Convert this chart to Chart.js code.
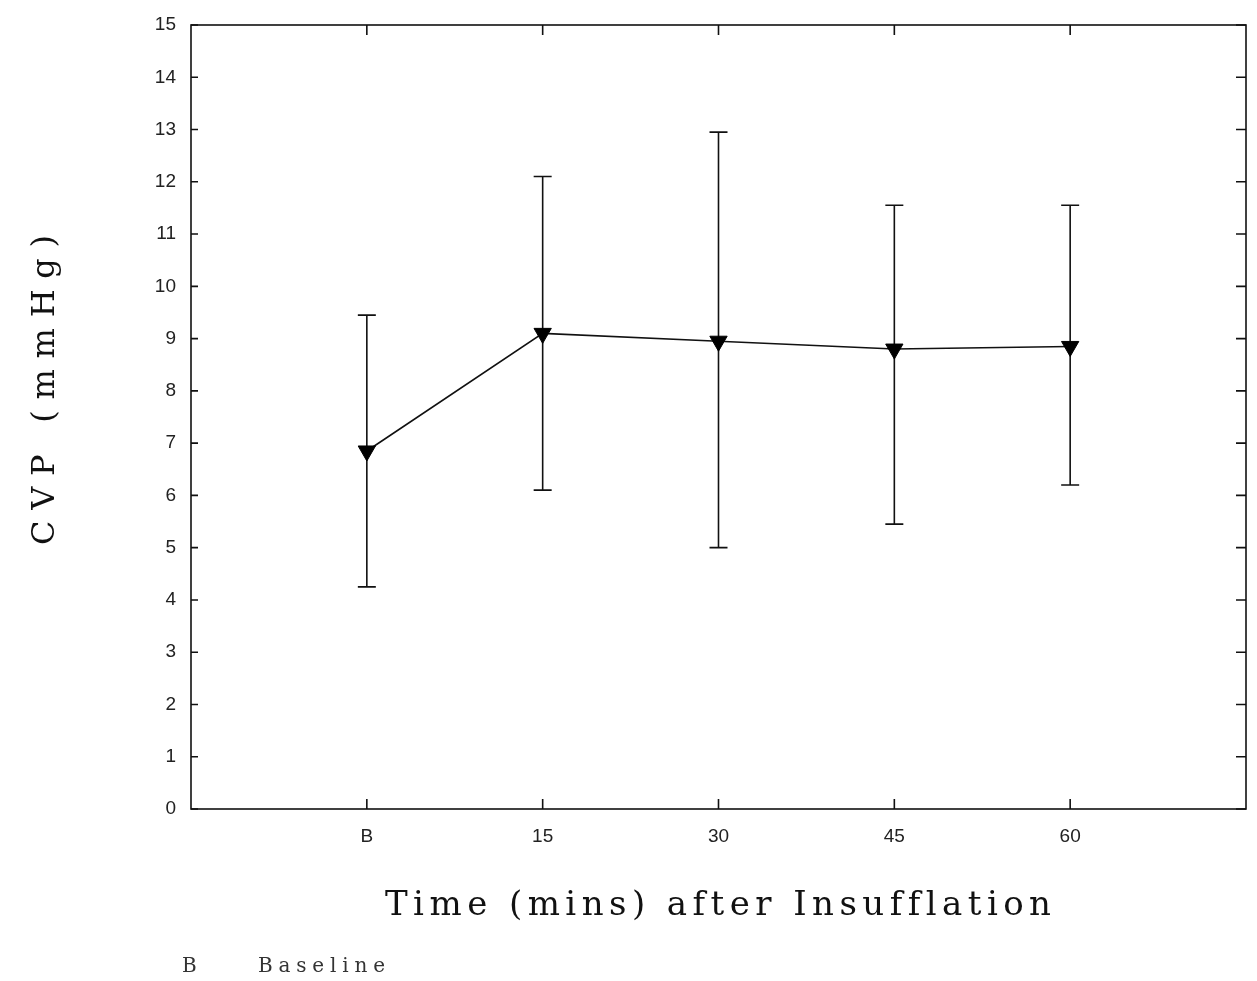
<!DOCTYPE html>
<html>
<head>
<meta charset="utf-8">
<title>CVP after insufflation</title>
<script src="https://cdn.jsdelivr.net/npm/chart.js@4.4.1/dist/chart.umd.min.js"></script>
<style>
  html, body { margin: 0; padding: 0; background: #fff; }
  #wrap { width: 1257px; height: 981px; position: relative; }
</style>
</head>
<body>
<div id="wrap"><canvas id="cvp-chart" width="1257" height="981"></canvas></div>
<script>
// data
const timeLabels = ['B', '15', '30', '45', '60'];
const cvpMean = [6.85, 9.1, 8.95, 8.8, 8.85];
const cvpUpper = [9.45, 12.1, 12.95, 11.55, 11.55];
const cvpLower = [4.25, 6.1, 5.0, 5.45, 6.2];
const yTicks = [0, 1, 2, 3, 4, 5, 6, 7, 8, 9, 10, 11, 12, 13, 14, 15];

const xTitle = 'Time (mins) after Insufflation';
const yTitle = 'CVP (mmHg)';

// positions 1..n on a 0..n+1 axis leave an empty slot at each end
const points = cvpMean.map((v, i) => ({ x: i + 1, y: v }));

// error bars, drawn behind the markers
const errorBars = {
  id: 'errorBars',
  beforeDatasetsDraw(chart) {
    const ctx = chart.ctx;
    const xs = chart.scales.x, ys = chart.scales.y;
    ctx.save();
    ctx.strokeStyle = '#111';
    ctx.lineWidth = 1.6;
    for (let i = 0; i < cvpMean.length; i++) {
      const x = xs.getPixelForValue(i + 1);
      const top = ys.getPixelForValue(cvpUpper[i]);
      const bot = ys.getPixelForValue(cvpLower[i]);
      ctx.beginPath();
      ctx.moveTo(x, top); ctx.lineTo(x, bot);
      ctx.moveTo(x - 9, top); ctx.lineTo(x + 9, top);
      ctx.moveTo(x - 9, bot); ctx.lineTo(x + 9, bot);
      ctx.stroke();
    }
    ctx.restore();
  }
};

// frame with inward ticks on all four sides
const frame = {
  id: 'frame',
  afterDraw(chart) {
    const ctx = chart.ctx;
    const a = chart.chartArea;
    const xs = chart.scales.x, ys = chart.scales.y;
    ctx.save();
    ctx.strokeStyle = '#111';
    ctx.lineWidth = 1.6;
    ctx.strokeRect(a.left, a.top, a.right - a.left, a.bottom - a.top);
    ctx.beginPath();
    yTicks.forEach(v => {
      const y = ys.getPixelForValue(v);
      ctx.moveTo(a.left, y); ctx.lineTo(a.left + 7, y);
      ctx.moveTo(a.right, y); ctx.lineTo(a.right - 10, y);
    });
    timeLabels.forEach((t, i) => {
      const x = xs.getPixelForValue(i + 1);
      ctx.moveTo(x, a.bottom); ctx.lineTo(x, a.bottom - 10);
      ctx.moveTo(x, a.top); ctx.lineTo(x, a.top + 10);
    });
    ctx.stroke();
    ctx.restore();
  }
};

// axis titles and the footnote, spaced out like the typed original
function spacedText(ctx, text, x, y, width) {
  ctx.letterSpacing = '0px';
  const w = ctx.measureText(text).width;
  const sp = Math.max(0, (width - w) / (text.length - 1));
  ctx.letterSpacing = sp + 'px';
  ctx.fillText(text, x, y);
}

const titles = {
  id: 'titles',
  afterDraw(chart) {
    const ctx = chart.ctx;
    ctx.save();
    ctx.fillStyle = '#111';
    ctx.textBaseline = 'alphabetic';
    ctx.textAlign = 'left';
    ctx.font = '34px "DejaVu Serif"';
    spacedText(ctx, xTitle, 385, 915, 665);

    ctx.save();
    ctx.translate(54, 545);
    ctx.rotate(-Math.PI / 2);
    ctx.font = '32px "DejaVu Serif"';
    spacedText(ctx, yTitle, 0, 0, 310);
    ctx.restore();

    ctx.fillStyle = '#333';
    ctx.font = '20px "DejaVu Serif"';
    ctx.letterSpacing = '0px';
    ctx.fillText('B', 182, 972);
    spacedText(ctx, 'Baseline', 258, 972, 127);
    ctx.restore();
  }
};

new Chart(document.getElementById('cvp-chart').getContext('2d'), {
  type: 'line',
  data: {
    datasets: [{
      label: 'CVP',
      data: points,
      borderColor: '#111',
      borderWidth: 1.6,
      backgroundColor: '#111',
      pointStyle: 'triangle',
      rotation: 180,
      pointRadius: 10,
      pointBackgroundColor: '#000',
      pointBorderColor: '#000',
      pointBorderWidth: 1,
      tension: 0,
      fill: false
    }]
  },
  options: {
    responsive: false,
    animation: false,
    events: [],
    layout: { padding: { left: 0, top: 25, right: 0, bottom: 0 } },
    plugins: {
      legend: { display: false },
      tooltip: { enabled: false }
    },
    scales: {
      x: {
        type: 'linear',
        min: 0,
        max: timeLabels.length + 1,
        grid: { display: false, drawTicks: false },
        border: { display: false },
        afterBuildTicks(scale) {
          scale.ticks = timeLabels.map((t, i) => ({ value: i + 1 }));
        },
        afterFit(scale) {
          scale.height = 981 - 809;
          scale.paddingLeft = 0;
          scale.paddingRight = 0;
        },
        ticks: {
          padding: 16,
          color: '#222',
          font: { family: '"Liberation Sans"', size: 19 },
          maxRotation: 0,
          autoSkip: false,
          callback: v => timeLabels[v - 1] || ''
        }
      },
      y: {
        min: 0,
        max: 15,
        grid: { display: false, drawTicks: false },
        border: { display: false },
        afterBuildTicks(scale) {
          scale.ticks = yTicks.map(v => ({ value: v }));
        },
        afterFit(scale) {
          scale.width = 191;
          scale.paddingTop = 0;
          scale.paddingBottom = 0;
        },
        ticks: {
          padding: 15,
          color: '#222',
          font: { family: '"Liberation Sans"', size: 19 }
        }
      }
    }
  },
  plugins: [errorBars, frame, titles]
});
</script>
</body>
</html>
